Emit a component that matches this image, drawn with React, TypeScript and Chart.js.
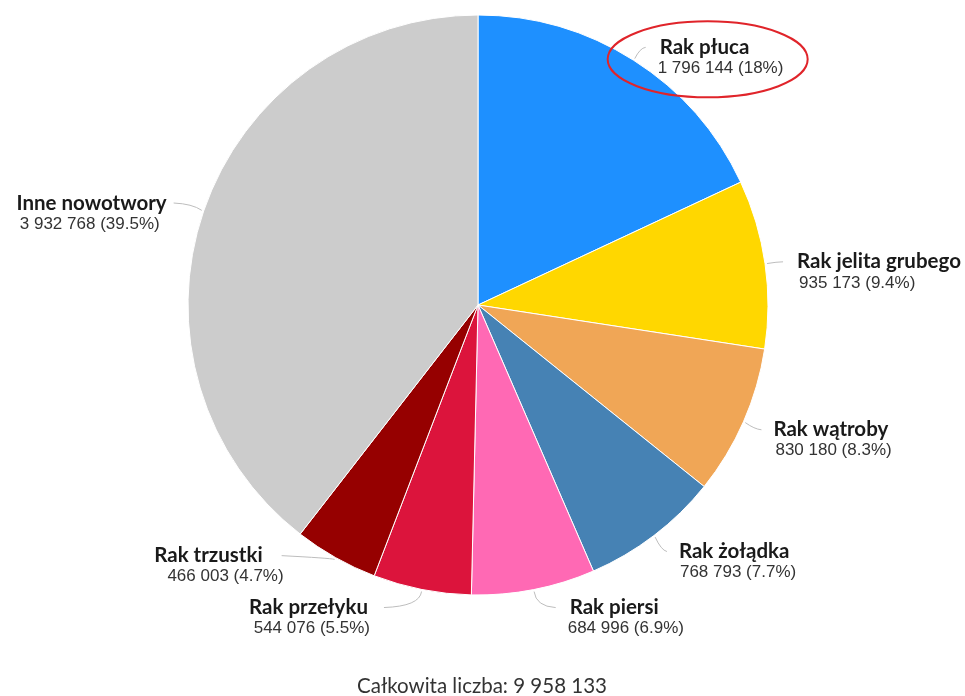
import React, { useEffect, useRef } from "react";
import { Chart, registerables } from "chart.js";

Chart.register(...registerables);

const categories = [
  "Rak płuca",
  "Rak jelita grubego",
  "Rak wątroby",
  "Rak żołądka",
  "Rak piersi",
  "Rak przełyku",
  "Rak trzustki",
  "Inne nowotwory",
];
const values = [1796144, 935173, 830180, 768793, 684996, 544076, 466003, 3932768];
const colors = ["#1E90FF", "#FFD700", "#F0A656", "#4682B4", "#FF69B4", "#DC143C", "#960000", "#CCCCCC"];
const totalLabel = "Całkowita liczba: ";
const highlightIndex = 0;

// label layout: offsets from the slice's outer mid-point
// side: 1 = text to the right (left aligned), -1 = text to the left (right aligned)
const labelSide = [1, 1, 1, 1, 1, -1, -1, -1];
const labelNameDx = [26, 32, 30, 25, 36, -54, -73, -37];
const labelValueDx = [24, 34, 32, 26, 34, -52, -52, -44];
const labelDy = [-13, -2, 8, 16, 18, 18, -2, -8];
const leaderGap = [14, 14, 12, 12, 14, 14, -2, 14];

const fmt = (n: number) => String(n).replace(/\B(?=(\d{3})+(?!\d))/g, " ");
const fmtPct = (p: number) => {
  const s = p.toFixed(1);
  return s.endsWith(".0") ? s.slice(0, -2) : s;
};

const labelsPlugin = {
  id: "pieLabels",
  afterDatasetsDraw(chart: any) {
    const ctx = chart.ctx as CanvasRenderingContext2D;
    const meta = chart.getDatasetMeta(0);
    const total = values.reduce((a, b) => a + b, 0);
    ctx.save();
    meta.data.forEach((arc: any, i: number) => {
      const mid = (arc.startAngle + arc.endAngle) / 2;
      const r = arc.outerRadius;
      const ex = arc.x + Math.cos(mid) * r;
      const ey = arc.y + Math.sin(mid) * r;
      const side = labelSide[i];
      const nameX = ex + labelNameDx[i];
      const nameY = ey + labelDy[i];
      const valueX = ex + labelValueDx[i];
      const valueY = nameY + 21;

      // leader line
      const p0x = arc.x + Math.cos(mid) * (r + 2);
      const p0y = arc.y + Math.sin(mid) * (r + 2);
      const p1x = arc.x + Math.cos(mid) * (r + 12);
      const p1y = arc.y + Math.sin(mid) * (r + 12);
      const p2x = (side === 1 ? nameX : valueX) - side * leaderGap[i];
      const p2y = nameY;
      ctx.beginPath();
      ctx.strokeStyle = "#bdbdbd";
      ctx.lineWidth = 1;
      ctx.moveTo(p0x, p0y);
      ctx.quadraticCurveTo(p1x, p1y + (p2y - p1y) * 0.8, p2x, p2y);
      ctx.stroke();

      ctx.textBaseline = "middle";
      ctx.textAlign = side === 1 ? "left" : "right";
      ctx.fillStyle = "#1a1a1a";
      ctx.font = "bold 20.5px Lato";
      ctx.fillText(categories[i], nameX, nameY);
      ctx.fillStyle = "#333333";
      ctx.font = "17px 'Liberation Sans', Arial";
      ctx.fillText(`${fmt(values[i])} (${fmtPct((values[i] / total) * 100)}%)`, valueX, valueY);
    });

    // highlight ellipse around the first label
    const arc0 = meta.data[highlightIndex];
    if (arc0) {
      const mid = (arc0.startAngle + arc0.endAngle) / 2;
      const ex = arc0.x + Math.cos(mid) * arc0.outerRadius;
      const ey = arc0.y + Math.sin(mid) * arc0.outerRadius;
      ctx.beginPath();
      ctx.strokeStyle = "#E0242A";
      ctx.lineWidth = 2;
      ctx.ellipse(ex + 74, ey - 1, 100, 38, 0, 0, Math.PI * 2);
      ctx.stroke();
    }

    // footer
    ctx.fillStyle = "#333333";
    ctx.font = "20.5px Lato";
    ctx.textAlign = "center";
    ctx.textBaseline = "middle";
    ctx.fillText(totalLabel + fmt(total), 482, 686);
    ctx.restore();
  },
};

export default function App() {
  const ref = useRef<HTMLCanvasElement>(null);
  useEffect(() => {
    if (!ref.current) return;
    const chart = new Chart(ref.current, {
      type: "pie",
      data: {
        labels: categories,
        datasets: [
          {
            data: values,
            backgroundColor: colors,
            borderColor: "#ffffff",
            borderWidth: 1,
            radius: 290,
          },
        ],
      },
      options: {
        responsive: false,
        animation: false,
        layout: { padding: { left: 188, right: 197, top: 15, bottom: 101 } },
        plugins: {
          legend: { display: false },
          tooltip: { enabled: false },
        },
      },
      plugins: [labelsPlugin],
    });
    return () => chart.destroy();
  }, []);
  return (
    <div style={{ position: "absolute", left: 0, top: 0, width: 965, height: 696, background: "#fff" }}>
      <canvas ref={ref} width={965} height={696} />
    </div>
  );
}
